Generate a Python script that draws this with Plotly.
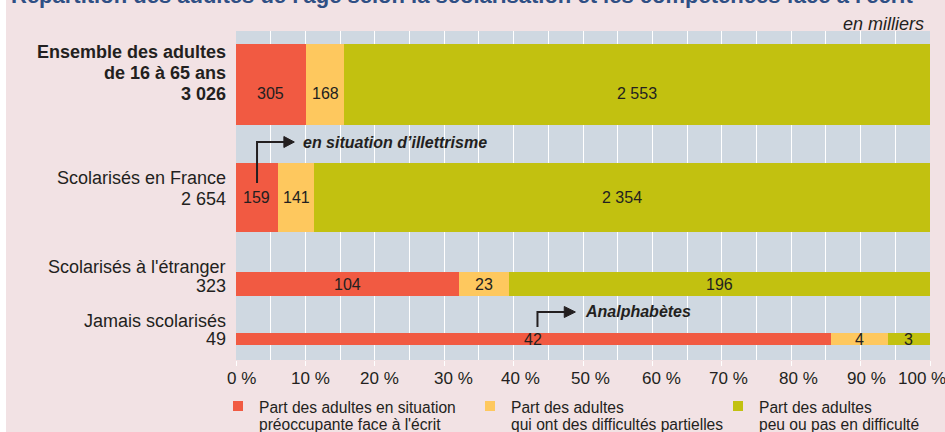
import plotly.graph_objects as go

# ---------------- data (thousands of adults) ----------------
categories = [["Ensemble des adultes", "de 16 à 65 ans"], ["Scolarisés en France"],
              ["Scolarisés à l'étranger"], ["Jamais scolarisés"]]
preoccupante = [305, 159, 104, 42]
partielles = [168, 141, 23, 4]
sans_difficulte = [2553, 2354, 196, 3]
series_names = [["Part des adultes en situation", "préoccupante face à l'écrit"],
                ["Part des adultes", "qui ont des difficultés partielles"],
                ["Part des adultes", "peu ou pas en difficulté"]]
x_ticks = [0, 10, 20, 30, 40, 50, 60, 70, 80, 90, 100]
x_tick_labels = ["0 %", "10 %", "20 %", "30 %", "40 %", "50 %", "60 %", "70 %", "80 %", "90 %", "100 %"]

# ---------------- layout constants (vertical axis measured downward, px units) ----------------
ROW_CENTER = [53.5, 166.5, 253, 308]
ROW_THICK = [81, 69, 24, 12]
ROW_LINE_Y = [[21, 42, 63], [147, 168], [236, 255], [290, 308]]
VALUE_LABEL_SHIFT = [9, 0, 0, 0]
TICK_SHIFT = [5, 5, 5, 9, 7, 7, 9, 7, 7, 6, -8]
LEG_X = [233, 485, 733]          # px, left of legend squares
COLORS = ["#f15a42", "#fec85e", "#c2c110"]
TXT = "#231f20"
FONT = "Liberation Sans, Arial, sans-serif"
NARROW = "Liberation Sans Narrow, Arial Narrow, Liberation Sans, sans-serif"
L, R, T, B = 236, 15, 31, 72
PW, PH = 945 - L - R, 432 - T - B


def fmt(v):
    return f"{v:,}".replace(",", " ")


def px_x(px):
    return (px - L) / PW


def px_y(py):
    return 1 - (py - T) / PH


totals = [a + b + c for a, b, c in zip(preoccupante, partielles, sans_difficulte)]
series = [preoccupante, partielles, sans_difficulte]
pcts = [[v / t * 100 for v, t in zip(s, totals)] for s in series]

fig = go.Figure()
for names, pc, col in zip(series_names, pcts, COLORS):
    fig.add_trace(go.Bar(
        x=pc, y=ROW_CENTER, width=ROW_THICK, orientation="h",
        name=" ".join(names), marker=dict(color=col, line=dict(width=0)),
        hoverinfo="skip", showlegend=False,
    ))

annotations = []
# values inside the bars
for i in range(len(categories)):
    start = 0
    for s, pc in zip(series, pcts):
        annotations.append(dict(
            x=start + pc[i] / 2, y=ROW_CENTER[i] + VALUE_LABEL_SHIFT[i],
            xref="x", yref="y", text=fmt(s[i]), showarrow=False,
            font=dict(family=FONT, size=16, color=TXT)))
        start += pc[i]

# row labels (one annotation per line)
for i, cat in enumerate(categories):
    lines = cat + [fmt(totals[i])]
    bold = i == 0
    for line, ly in zip(lines, ROW_LINE_Y[i]):
        annotations.append(dict(
            x=0, xref="paper", xshift=-8, xanchor="right", align="right",
            y=ly, yref="y", text=f"<b>{line}</b>" if bold else line, showarrow=False,
            font=dict(family=FONT, size=18, color=TXT)))

# x tick labels
for v, lab, sh in zip(x_ticks, x_tick_labels, TICK_SHIFT):
    annotations.append(dict(x=v, xref="x", xshift=sh, y=px_y(378), yref="paper",
                            text=lab, showarrow=False, xanchor="center", yanchor="middle",
                            font=dict(family=NARROW, size=17, color=TXT)))

# legend (squares + two-line texts)
for names, col, lx in zip(series_names, COLORS, LEG_X):
    for line, ly in zip(names, [407, 424.5]):
        annotations.append(dict(x=px_x(lx + 24), y=px_y(ly), xref="paper", yref="paper",
                                xanchor="left", yanchor="middle", text=line, showarrow=False,
                                font=dict(family=FONT, size=15.6, color=TXT)))

# callouts
annotations.append(dict(x=9.37, y=111, xref="x", yref="y", xanchor="left",
                        text="<b><i>en situation d’illettrisme</i></b>", showarrow=False,
                        font=dict(family=FONT, size=16, color=TXT)))
annotations.append(dict(x=50.0, y=280, xref="x", yref="y", xanchor="left",
                        text="<b><i>Analphabètes</i></b>", showarrow=False,
                        font=dict(family=FONT, size=16, color=TXT)))

# unit and (cropped) title
annotations.append(dict(x=px_x(926), y=px_y(24), xref="paper", yref="paper", xanchor="right",
                        yanchor="middle", text="<i>en milliers</i>", showarrow=False,
                        font=dict(family=FONT, size=18, color=TXT)))
annotations.append(dict(x=px_x(462), y=px_y(-4), xref="paper", yref="paper",
                        xanchor="center", yanchor="middle",
                        text="<b>Répartition des adultes de l'âge selon la scolarisation et les compétences face à l'écrit</b>",
                        showarrow=False, font=dict(family=FONT, size=22, color="#2f4f84")))

shapes = [
    # callout arrows
    dict(type="path", xref="x", yref="y", path="M 3.03,152 L 3.03,111 L 7.2,111",
         line=dict(color=TXT, width=2)),
    dict(type="path", xref="x", yref="y", path="M 6.9,105.5 L 8.4,111 L 6.9,116.5 Z",
         fillcolor=TXT, line=dict(color=TXT, width=1)),
    dict(type="path", xref="x", yref="y", path="M 43.44,296 L 43.44,281 L 47.6,281",
         line=dict(color=TXT, width=2)),
    dict(type="path", xref="x", yref="y", path="M 47.3,275.5 L 48.9,281 L 47.3,286.5 Z",
         fillcolor=TXT, line=dict(color=TXT, width=1)),
    # thin white strip at the left edge
    dict(type="rect", xref="paper", yref="paper", x0=px_x(0), x1=px_x(6),
         y0=px_y(432), y1=px_y(0), fillcolor="#ffffff", line=dict(width=0), layer="below"),
]
# legend squares
for col, lx in zip(COLORS, LEG_X):
    shapes.append(dict(type="rect", xref="paper", yref="paper", x0=px_x(lx), x1=px_x(lx + 10),
                       y0=px_y(411), y1=px_y(401), fillcolor=col, line=dict(width=0)))

fig.update_layout(
    width=945, height=432,
    margin=dict(l=L, r=R, t=T, b=B, autoexpand=False),
    paper_bgcolor="#f2e2e4", plot_bgcolor="#cfd8e1",
    barmode="stack",
    font=dict(family=FONT, size=15, color=TXT),
    xaxis=dict(range=[0, 100], tickvals=x_ticks, showticklabels=False,
               showgrid=True, gridcolor="#ffffff", gridwidth=1,
               minor=dict(dtick=5, showgrid=True, gridcolor="#ffffff", gridwidth=1),
               ticks="outside", ticklen=5, tickcolor="#ffffff", tickwidth=1,
               zeroline=False, showline=False, fixedrange=True, automargin=False),
    yaxis=dict(range=[PH, 0], showticklabels=False, showgrid=False, zeroline=False,
               fixedrange=True, automargin=False),
    annotations=annotations,
    shapes=shapes,
    showlegend=False,
)

fig.write_html("out.html", config={"displayModeBar": False},
               post_script="document.body.style.margin='0';document.body.style.overflow='hidden';")
